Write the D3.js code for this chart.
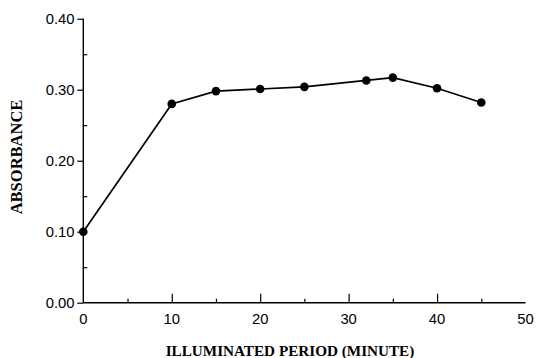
<!DOCTYPE html>
<html>
<head>
<meta charset="utf-8">
<script src="https://cdn.jsdelivr.net/npm/d3@7"></script>
<style>
html,body{margin:0;padding:0;background:#fff;}
svg{display:block;}
</style>
</head>
<body>
<svg id="chart" width="536" height="358"></svg>
<script>
const minutes = [0, 10, 15, 20, 25, 32, 35, 40, 45];
const absorbance = [0.100, 0.280, 0.298, 0.301, 0.304, 0.313, 0.317, 0.302, 0.282];
const xTicks = [0, 10, 20, 30, 40, 50];
const xMinorTicks = [5, 15, 25, 35, 45];
const yTicks = [0.00, 0.10, 0.20, 0.30, 0.40];
const yMinorTicks = [0.05, 0.15, 0.25, 0.35];
const xTitle = "ILLUMINATED PERIOD (MINUTE)";
const yTitle = "ABSORBANCE";

const svg = d3.select("#chart");
const x = d3.scaleLinear().domain([0, 50]).range([83.3, 525.5]);
const y = d3.scaleLinear().domain([0, 0.40]).range([302.7, 18.7]);
const ink = "#000";

// x axis
const gx = svg.append("g").attr("transform", `translate(0,${y(0)})`);
gx.call(d3.axisTop(x).tickValues(xTicks.filter(d => d > 0 && d < 50)).tickSize(9).tickFormat(""))
  .call(g => g.select(".domain").remove());
gx.append("g").call(d3.axisTop(x).tickValues(xMinorTicks).tickSize(4).tickFormat(""))
  .call(g => g.select(".domain").remove());
gx.append("line").attr("x1", x(0)).attr("x2", x(50)).attr("y1", 0).attr("y2", 0);
gx.selectAll("line").attr("stroke", ink).attr("stroke-width", 1.4);
gx.selectAll(".tick line").attr("stroke-width", 1.2);
svg.append("g").selectAll("text").data(xTicks).join("text")
  .attr("x", d => x(d)).attr("y", 324)
  .attr("text-anchor", "middle")
  .attr("font-family", "Liberation Sans, Arial, sans-serif")
  .attr("font-size", 14.8).attr("fill", ink)
  .text(d => d);

// y axis
const gy = svg.append("g").attr("transform", `translate(${x(0)},0)`);
gy.call(d3.axisLeft(y).tickValues(yTicks).tickSize(6).tickFormat(""))
  .call(g => g.select(".domain").remove());
gy.append("g").call(d3.axisRight(y).tickValues(yMinorTicks).tickSize(4).tickFormat(""))
  .call(g => g.select(".domain").remove());
gy.append("line").attr("x1", 0).attr("x2", 0).attr("y1", y(0.40)).attr("y2", y(0));
gy.selectAll("line").attr("stroke", ink).attr("stroke-width", 1.4);
gy.selectAll(".tick line").attr("stroke-width", 1.2);
svg.append("g").selectAll("text").data(yTicks).join("text")
  .attr("x", 74.5).attr("y", d => y(d)).attr("dy", "0.36em")
  .attr("text-anchor", "end")
  .attr("font-family", "Liberation Sans, Arial, sans-serif")
  .attr("font-size", 14.8).attr("fill", ink)
  .text(d => d.toFixed(2));

// line + markers
const line = d3.line().x((d, i) => x(minutes[i])).y(d => y(d));
svg.append("path").datum(absorbance)
  .attr("d", line).attr("fill", "none")
  .attr("stroke", ink).attr("stroke-width", 1.7);
svg.append("g").selectAll("circle").data(absorbance).join("circle")
  .attr("cx", (d, i) => x(minutes[i])).attr("cy", d => y(d))
  .attr("r", 4.3).attr("fill", ink);

// titles
svg.append("text")
  .attr("x", 290).attr("y", 355.5)
  .attr("text-anchor", "middle")
  .attr("font-family", "Liberation Serif, Times New Roman, serif")
  .attr("font-weight", "bold").attr("font-size", 15.2).attr("fill", ink)
  .text(xTitle);
svg.append("text")
  .attr("transform", "translate(22,157) rotate(-90)")
  .attr("text-anchor", "middle")
  .attr("font-family", "Liberation Serif, Times New Roman, serif")
  .attr("font-weight", "bold").attr("font-size", 16.5).attr("fill", ink)
  .text(yTitle);
</script>
</body>
</html>
